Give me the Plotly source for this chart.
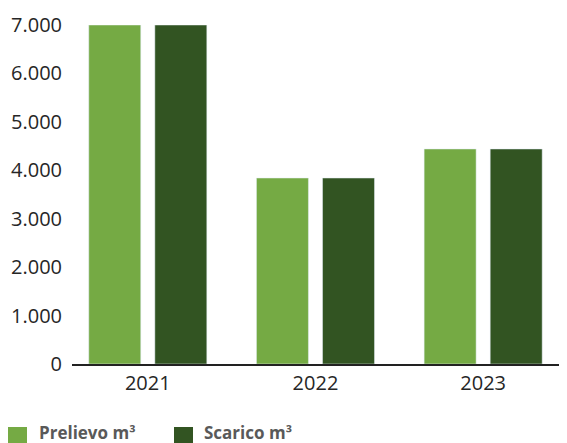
import plotly.graph_objects as go

years = ["2021", "2022", "2023"]
prelievo = [7000, 3840, 4440]
scarico = [7000, 3840, 4440]
series_names = ["Prelievo m³", "Scarico m³"]
colors = ["#75AA44", "#325422"]
y_ticks = [0, 1000, 2000, 3000, 4000, 5000, 6000, 7000]

OFF = 8  # default page body margin
PAGE_W, PAGE_H = 567, 443
W, H = PAGE_W - OFF, PAGE_H - OFF
# plot area in page pixels
X0, X1, Y0, Y1 = 72, 567, 25, 364
L, R, T, B = X0 - OFF, PAGE_W - X1, Y0 - OFF, PAGE_H - Y1
pw, ph = X1 - X0, Y1 - Y0

def px(x):
    return (x - X0) / pw

def py(y):
    return (Y1 - y) / ph

fig = go.Figure()
fig.add_trace(go.Bar(x=[0, 1, 2], y=prelievo, name=series_names[0], marker_color=colors[0],
                     width=0.31, offset=-0.352, showlegend=False))
fig.add_trace(go.Bar(x=[0, 1, 2], y=scarico, name=series_names[1], marker_color=colors[1],
                     width=0.31, offset=0.042, showlegend=False))

font_family = "Open Sans, Noto Sans, sans-serif"

fig.update_layout(
    width=W, height=H,
    margin=dict(l=L, r=R, t=T, b=B, pad=0),
    plot_bgcolor="white", paper_bgcolor="white",
    separators=",.",
    font=dict(family=font_family, size=20, color="#262626"),
    xaxis=dict(
        range=[-0.452, 2.5], tickmode="array", tickvals=[0, 1, 2], ticktext=years,
        showgrid=False, zeroline=False, showline=True, linecolor="#222", linewidth=1.5,
        ticks="", ticklen=0, tickfont=dict(size=20, color="#262626"),
    ),
    yaxis=dict(
        range=[0, 7000], tickmode="array", tickvals=y_ticks, tickformat=",d",
        showgrid=False, zeroline=False, showline=False, ticks="",
        tickfont=dict(size=20, color="#262626"), ticklabelstandoff=9,
    ),
)

# Custom legend (large squares + bold labels)
legend_items = [(8, 38, series_names[0], colors[0]), (174, 203, series_names[1], colors[1])]
for sx, tx, label, col in legend_items:
    fig.add_shape(type="rect", xref="paper", yref="paper",
                  x0=px(sx), x1=px(sx + 19), y0=py(446), y1=py(427),
                  fillcolor=col, line_width=0, layer="above")
    fig.add_annotation(xref="paper", yref="paper", x=px(tx), y=py(432),
                       xanchor="left", yanchor="middle", showarrow=False, borderpad=0,
                       text=f"<b>{label}</b>", font=dict(size=17, color="#595959", family=font_family))

fig.write_html("out.html")
